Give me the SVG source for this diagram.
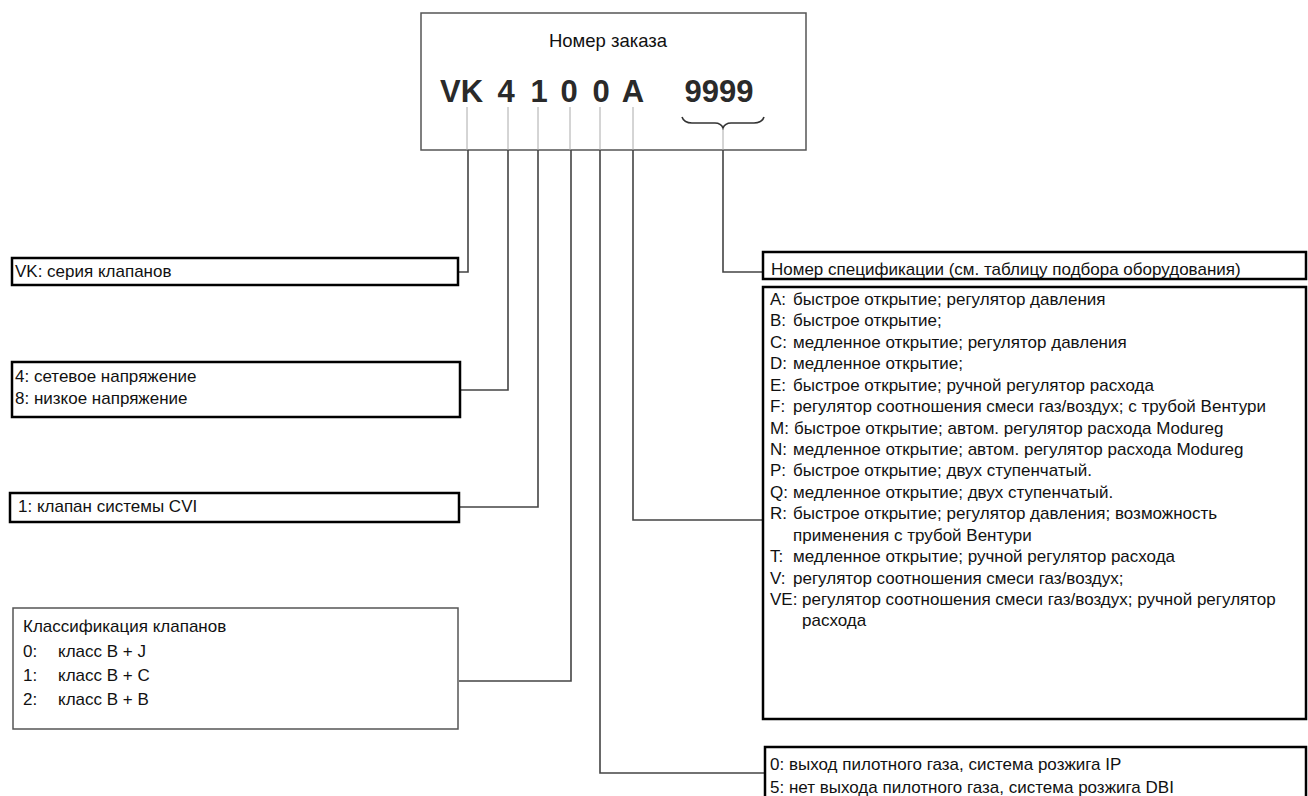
<svg xmlns="http://www.w3.org/2000/svg" width="1308" height="796" viewBox="0 0 1308 796">
<style>
text{font-family:"Liberation Sans",Arial,sans-serif;fill:#111;font-size:17px}
.code{font-weight:bold;font-size:31px;fill:#2a2a2a}
.title{font-size:18.5px}
.thick{fill:#fff;stroke:#000;stroke-width:2.5}
.thin{fill:#fff;stroke:#555;stroke-width:1.5}
.conn{fill:none;stroke:#444;stroke-width:1.6}
.tick{fill:none;stroke:#aaa;stroke-width:1}
</style>
<rect width="1308" height="796" fill="#fff"/>

<g id="order">
<rect class="thin" x="421" y="13" width="385" height="137"/>
<text class="title" x="608" y="47" text-anchor="middle">Номер заказа</text>
<text class="code" x="440" y="102">VK</text>
<text class="code" x="506" y="102" text-anchor="middle">4</text>
<text class="code" x="539" y="102" text-anchor="middle">1</text>
<text class="code" x="569" y="102" text-anchor="middle">0</text>
<text class="code" x="601" y="102" text-anchor="middle">0</text>
<text class="code" x="633" y="102" text-anchor="middle">A</text>
<text class="code" x="719" y="102" text-anchor="middle">9999</text>
<path class="tick" d="M467,107V150M508,107V150M538,107V150M570,107V150M600,107V150M633,107V150M723,129V150"/>
<path d="M682,117Q684,123 692,123H715Q721,123 723,128Q725,123 731,123H754Q762,123 764,117" fill="none" stroke="#333" stroke-width="1.6"/>
</g>

<g id="connectors">
<path class="conn" d="M468,150V272H459"/>
<path class="conn" d="M508,150V390H461"/>
<path class="conn" d="M538,150V507H460"/>
<path class="conn" d="M571,150V681H459"/>
<path class="conn" d="M600,150V773H765"/>
<path class="conn" d="M633,150V520H763"/>
<path class="conn" d="M723,150V272H763"/>
</g>

<g id="vk">
<rect class="thick" x="12" y="258" width="446" height="27"/>
<text x="15" y="277">VK: серия клапанов</text>
</g>

<g id="voltage">
<rect class="thick" x="12" y="362" width="448" height="55"/>
<text x="15" y="382">4: сетевое напряжение</text>
<text x="15" y="404">8: низкое напряжение</text>
</g>

<g id="cvi">
<rect class="thick" x="10" y="493" width="449" height="29"/>
<text x="18" y="512">1: клапан системы CVI</text>
</g>

<g id="class">
<rect class="thin" x="13" y="608" width="445" height="121"/>
<text x="23" y="632">Классификация клапанов</text>
<text x="23" y="657">0:</text><text x="58" y="657">класс B + J</text>
<text x="23" y="681">1:</text><text x="58" y="681">класс B + C</text>
<text x="23" y="705">2:</text><text x="58" y="705">класс B + B</text>
</g>

<g id="spec">
<rect class="thick" x="763" y="252" width="543" height="27"/>
<text x="771" y="275">Номер спецификации (см. таблицу подбора оборудования)</text>
</g>

<g id="type">
<rect class="thick" x="763" y="287" width="543" height="432"/>
<text x="770" y="305">A:</text><text x="793" y="305">быстрое открытие; регулятор давления</text>
<text x="770" y="326">B:</text><text x="793" y="326">быстрое открытие;</text>
<text x="770" y="348">C:</text><text x="793" y="348">медленное открытие; регулятор давления</text>
<text x="770" y="369">D:</text><text x="793" y="369">медленное открытие;</text>
<text x="770" y="391">E:</text><text x="793" y="391">быстрое открытие; ручной регулятор расхода</text>
<text x="770" y="412">F:</text><text x="793" y="412">регулятор соотношения смеси газ/воздух; с трубой Вентури</text>
<text x="770" y="434">M:</text><text x="794" y="434">быстрое открытие; автом. регулятор расхода Modureg</text>
<text x="770" y="455">N:</text><text x="793" y="455">медленное открытие; автом. регулятор расхода Modureg</text>
<text x="770" y="476">P:</text><text x="793" y="476">быстрое открытие; двух ступенчатый.</text>
<text x="770" y="498">Q:</text><text x="793" y="498">медленное открытие; двух ступенчатый.</text>
<text x="770" y="519">R:</text><text x="793" y="519">быстрое открытие; регулятор давления; возможность</text>
<text x="793" y="541">применения с трубой Вентури</text>
<text x="770" y="562">T:</text><text x="793" y="562">медленное открытие; ручной регулятор расхода</text>
<text x="770" y="584">V:</text><text x="793" y="584">регулятор соотношения смеси газ/воздух;</text>
<text x="770" y="605">VE:</text><text x="802" y="605">регулятор соотношения смеси газ/воздух; ручной регулятор</text>
<text x="802" y="626">расхода</text>
</g>

<g id="pilot">
<rect class="thick" x="765" y="747" width="541" height="60"/>
<text x="770" y="770">0: выход пилотного газа, система розжига IP</text>
<text x="770" y="793">5: нет выхода пилотного газа, система розжига DBI</text>
</g>
</svg>
